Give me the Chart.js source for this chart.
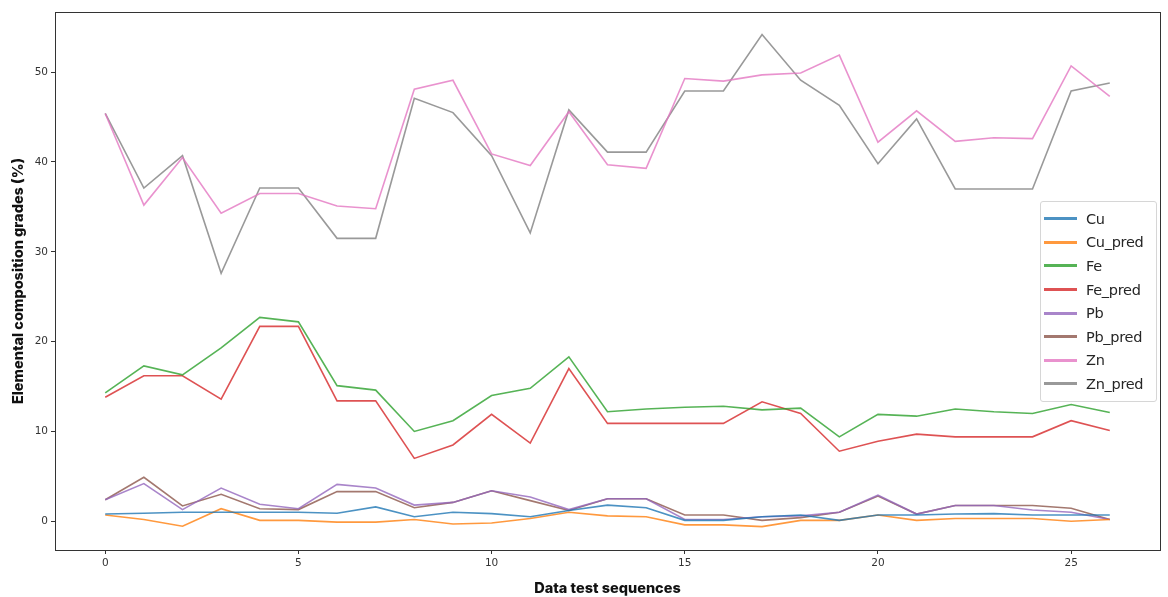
<!DOCTYPE html>
<html>
<head>
<meta charset="utf-8">
<script src="https://cdn.jsdelivr.net/npm/chart.js@4.4.1/dist/chart.umd.min.js"></script>
<style>
	html, body { margin: 0; padding: 0; background: #fff; }
	#wrap { position: relative; width: 1168px; height: 597px; }
	#legend {
		position: absolute; left: 1040px; top: 201px; width: 117px;
		box-sizing: border-box; padding: 5px 0 5px 0;
		border: 1px solid #d6d6d6; border-radius: 3px;
		background: rgba(255, 255, 255, 0.85);
		font-family: "DejaVu Sans", sans-serif; font-size: 14.5px; color: #262626;
		letter-spacing: -0.3px;
	}
	#legend .item { display: flex; align-items: center; height: 23.6px; }
	#legend .swatch { width: 33px; height: 3px; margin: 0 9px 0 3px; }
</style>
</head>
<body>
<div id="wrap">
	<canvas id="chart-composition" width="1168" height="597"></canvas>
	<div id="legend"></div>
</div>
<script>
// Data
const SEQUENCES = [0, 1, 2, 3, 4, 5, 6, 7, 8, 9, 10, 11, 12, 13, 14, 15, 16, 17, 18, 19, 20, 21, 22, 23, 24, 25, 26];
const X_TICKS = [0, 5, 10, 15, 20, 25];
const Y_TICKS = [0, 10, 20, 30, 40, 50];

const CU = [0.8, 0.9, 1.0, 1.0, 1.0, 1.0, 0.9, 1.6, 0.5, 1.0, 0.85, 0.5, 1.2, 1.8, 1.5, 0.1, 0.1, 0.5, 0.7, 0.1, 0.7, 0.7, 0.8, 0.85, 0.7, 0.7, 0.7];
const CU_PRED = [0.7, 0.2, -0.55, 1.4, 0.1, 0.1, -0.1, -0.1, 0.2, -0.3, -0.2, 0.3, 1.0, 0.6, 0.5, -0.4, -0.4, -0.6, 0.1, 0.1, 0.7, 0.1, 0.3, 0.3, 0.3, 0.0, 0.2];
const FE = [14.3, 17.3, 16.3, 19.3, 22.7, 22.2, 15.1, 14.6, 10.0, 11.2, 14.0, 14.8, 18.3, 12.2, 12.5, 12.7, 12.8, 12.4, 12.6, 9.4, 11.9, 11.7, 12.5, 12.2, 12.0, 13.0, 12.1];
const FE_PRED = [13.8, 16.2, 16.2, 13.6, 21.7, 21.7, 13.4, 13.4, 7.0, 8.5, 11.9, 8.7, 17.0, 10.9, 10.9, 10.9, 10.9, 13.3, 12.0, 7.8, 8.9, 9.7, 9.4, 9.4, 9.4, 11.2, 10.1];
const PB = [2.4, 4.2, 1.3, 3.7, 1.9, 1.4, 4.1, 3.7, 1.8, 2.1, 3.4, 2.7, 1.3, 2.5, 2.5, 0.2, 0.2, 0.5, 0.6, 1.0, 2.9, 0.8, 1.75, 1.75, 1.25, 1.0, 0.2];
const PB_PRED = [2.4, 4.9, 1.7, 3.0, 1.4, 1.3, 3.3, 3.3, 1.5, 2.1, 3.4, 2.3, 1.2, 2.5, 2.5, 0.7, 0.7, 0.1, 0.4, 1.0, 2.8, 0.8, 1.75, 1.75, 1.75, 1.45, 0.2];
const ZN = [45.4, 35.2, 40.5, 34.3, 36.5, 36.5, 35.1, 34.8, 48.1, 49.1, 40.9, 39.6, 45.6, 39.7, 39.3, 49.3, 49.0, 49.7, 49.9, 51.9, 42.2, 45.7, 42.3, 42.7, 42.6, 50.7, 47.3];
const ZN_PRED = [45.4, 37.1, 40.7, 27.6, 37.1, 37.1, 31.5, 31.5, 47.1, 45.5, 40.7, 32.1, 45.8, 41.1, 41.1, 47.9, 47.9, 54.2, 49.1, 46.3, 39.8, 44.8, 37.0, 37.0, 37.0, 47.9, 48.8];

const SERIES = [
	["Cu", CU, "rgba(31, 119, 180, 0.8)"],
	["Cu_pred", CU_PRED, "rgba(255, 127, 14, 0.8)"],
	["Fe", FE, "rgba(44, 160, 44, 0.8)"],
	["Fe_pred", FE_PRED, "rgba(214, 39, 40, 0.8)"],
	["Pb", PB, "rgba(148, 103, 189, 0.8)"],
	["Pb_pred", PB_PRED, "rgba(140, 86, 75, 0.8)"],
	["Zn", ZN, "rgba(227, 119, 194, 0.8)"],
	["Zn_pred", ZN_PRED, "rgba(127, 127, 127, 0.8)"],
];

const TICK_FONT = { family: "DejaVu Sans", size: 10.5 };
const TITLE_FONT = { family: "Inter", size: 14.5, weight: "800" };
const AXIS_COLOR = "#333";

// Frame around the plot area (matplotlib spines)
const framePlugin = {
	id: "frame",
	afterDraw(chart) {
		const { ctx, chartArea: a } = chart;
		ctx.save();
		ctx.strokeStyle = AXIS_COLOR;
		ctx.lineWidth = 1;
		ctx.strokeRect(Math.round(a.left) + 0.5, Math.round(a.top) + 0.5, Math.round(a.right - a.left), Math.round(a.bottom - a.top));
		ctx.restore();
	},
};

const CHART_DATA = {
	datasets: SERIES.map(([label, values, color]) => ({
		label: label,
		data: SEQUENCES.map((s, i) => ({ x: s, y: values[i] })),
		borderColor: color,
		backgroundColor: color,
		borderWidth: 1.6,
		pointRadius: 0,
		tension: 0,
		fill: false,
	})),
};

const CHART_CONFIG = {
	type: "line",
	data: CHART_DATA,
	options: {
		responsive: false,
		animation: false,
		layout: {
			padding: { top: 12, right: 8, left: 0, bottom: 0 },
		},
		scales: {
			x: {
				type: "linear",
				min: -1.3,
				max: 27.3,
				afterBuildTicks: (scale) => {
					scale.ticks = X_TICKS.map((v) => ({ value: v }));
				},
				afterFit: (scale) => {
					scale.height = 47;
				},
				border: { display: false },
				grid: { drawOnChartArea: false, tickLength: 4, color: AXIS_COLOR },
				ticks: { font: TICK_FONT, color: AXIS_COLOR, padding: 3, maxRotation: 0 },
				title: {
					display: true,
					text: "Data test sequences",
					font: TITLE_FONT,
					color: "#111",
					padding: { top: 8, bottom: 0 },
				},
			},
			y: {
				min: -3.2,
				max: 56.7,
				afterBuildTicks: (scale) => {
					scale.ticks = Y_TICKS.map((v) => ({ value: v }));
				},
				afterFit: (scale) => {
					scale.width = 55;
				},
				border: { display: false },
				grid: { drawOnChartArea: false, tickLength: 4, color: AXIS_COLOR },
				ticks: { font: TICK_FONT, color: AXIS_COLOR, padding: 3 },
				title: {
					display: true,
					text: "Elemental composition grades (%)",
					font: TITLE_FONT,
					color: "#111",
					padding: { top: 10, bottom: 0 },
				},
			},
		},
		plugins: {
			legend: { display: false },
			tooltip: { enabled: false },
		},
	},
	plugins: [framePlugin],
};

const CHART_WRAPPER = document.getElementById("chart-composition");
if (CHART_WRAPPER) {
	const chart = new Chart(CHART_WRAPPER, CHART_CONFIG);

	// Legend inside the plot, built from the datasets
	const legend = document.getElementById("legend");
	chart.data.datasets.forEach((ds) => {
		const item = document.createElement("div");
		item.className = "item";
		const swatch = document.createElement("span");
		swatch.className = "swatch";
		swatch.style.background = ds.borderColor;
		const text = document.createElement("span");
		text.textContent = ds.label;
		item.appendChild(swatch);
		item.appendChild(text);
		legend.appendChild(item);
	});
}
</script>
</body>
</html>
